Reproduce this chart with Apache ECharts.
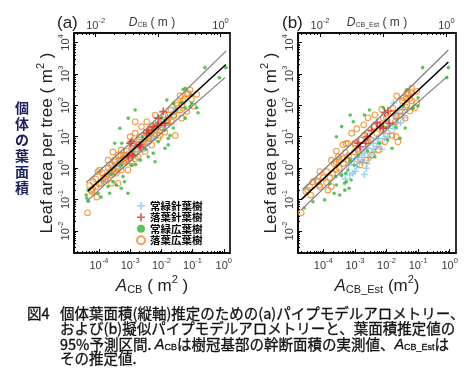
<!DOCTYPE html>
<html><head><meta charset="utf-8">
<script src="https://cdn.jsdelivr.net/npm/echarts@6/dist/echarts.min.js"></script>
<style>html,body{margin:0;padding:0;background:#fff}#c{width:472px;height:384px}</style>
</head><body><div id="c"></div>
<script>
// ---------- axis ranges & tick labels ----------
const xMin = 1.585e-5, xMax = 1.585;      // A (m^2)
const yMin = 2.0e-3,  yMax = 2.0e4;       // leaf area (m^2)
const xTickValues = [1e-4, 1e-3, 1e-2, 1e-1, 1];
const yTickValues = [1e-2, 1e-1, 1, 1e1, 1e2, 1e3, 1e4];
const dTickValues = [1e-2, 1e-1, 1];
const dLabelValues = [1e-2, 1];
const legendNames = ['常緑針葉樹', '落葉針葉樹', '常緑広葉樹', '落葉広葉樹'];

// ---------- panel (a): measured A_CB ----------
const a_evergreenConifer = [[1.3e-4,0.40],[1.6e-4,0.56],[2.0e-4,0.63],[2.5e-4,0.89],[2.8e-4,1.26],[3.2e-4,0.79],[3.5e-4,1.12],[4.0e-4,1.6],[4.5e-4,1.0],[5.0e-4,1.8],[5.6e-4,1.4],[6.3e-4,2.2],[7.1e-4,1.6],[7.9e-4,2.8],[8.9e-4,2.0],[1.0e-3,3.2],[1.1e-3,2.2],[1.26e-3,4.0],[1.4e-3,2.8],[1.6e-3,5.0],[1.8e-3,3.5],[2.0e-3,6.3],[2.2e-3,4.5],[2.5e-3,7.9],[2.8e-3,5.6],[3.2e-3,8.9],[3.5e-3,7.1],[4.0e-3,11],[4.5e-3,7.9],[5.0e-3,14],[5.6e-3,10],[6.3e-3,18],[7.1e-3,13],[7.9e-3,22],[8.9e-3,16],[1.0e-2,25],[1.1e-2,20],[1.26e-2,32],[1.4e-2,28],[1.6e-2,40],[2.0e-2,50],[2.5e-2,63],[3.2e-2,71],[2.5e-3,3.5],[1.0e-3,1.4],[6.3e-3,8.9],[1.8e-2,25],
  [1.4e-4,0.35],[2.2e-4,0.71],[3.5e-4,0.79],[5.6e-4,2.0],[8.9e-4,2.8],[1.4e-3,4.5],[2.2e-3,6.3],[3.5e-3,10],[5.6e-3,16],[8.9e-3,22],[1.4e-2,35],[2.2e-2,50],[2.8e-2,79],[4.5e-3,12.6],[1.8e-3,5.6],[7.1e-4,2.5]];
const a_deciduousConifer = [[3.8e-3,16],[5.5e-3,21],[7.9e-3,23],[3.4e-3,13],[1.15e-2,63],[1.3e-2,27],[7.9e-3,39],[1.0e-3,6.2],[2.1e-3,4.8],[8.7e-4,2.3],[2.0e-3,5.5],[1.2e-3,2.6],[1.1e-3,7.0]];
const a_evergreenBroadleaf = [[3.9e-5,0.14],[4.5e-5,0.20],[4.1e-5,0.11],[4.6e-5,0.089],[9.3e-5,0.16],[1.17e-4,0.12],[1.95e-4,0.26],[2.2e-4,0.16],[2.8e-4,0.37],[3.6e-4,0.29],[5.2e-4,0.23],[6.6e-4,0.37],[8.5e-4,0.16],[5.9e-4,0.54],[3.2e-4,6.2],[4.7e-4,18.6],[5.4e-4,6.2],[8.7e-4,39],[1.45e-3,71],[1.12e-3,1.26],[1.5e-3,1.3],[2.1e-3,1.8],[3.8e-3,2.3],[5.5e-3,3.0],[6.3e-3,1.6],[7.9e-3,6.9],[1.3e-2,4.3],[1.66e-2,5.5],[1.66e-2,8.9],[1.9e-2,11],[2.4e-2,19],[7.1e-3,27],[1.5e-2,148],[2.4e-2,115],[5.8e-2,39],[8.3e-2,91],[9.3e-2,115],[4.5e-2,120],[5.8e-2,83],[0.135,83],[0.15,58],[9.3e-2,210],[5.0e-2,320],[5.8e-2,350],[0.25,1580],[1.17,1580],[0.72,760],[2.5e-3,10],[5.0e-3,20],[1.0e-2,40],[1.26e-3,2.8],[5.0e-4,1.26],[3.2e-3,4.0],[1.26e-2,16],[2.5e-4,0.63]];
const a_deciduousBroadleaf = [[4.3e-5,0.038],[5.6e-5,0.20],[5.9e-5,0.18],[6.5e-5,0.37],[8.1e-5,0.26],[8.5e-5,0.12],[9.3e-5,0.78],[1.05e-4,0.87],[1.17e-4,0.33],[1.74e-4,0.54],[1.95e-4,1.8],[2.2e-4,0.78],[2.5e-4,1.26],[2.5e-4,0.33],[2.8e-4,3.3],[3.2e-4,1.8],[3.6e-4,0.69],[4.1e-4,2.6],[4.1e-4,0.33],[5.2e-4,3.8],[5.2e-4,0.87],[5.4e-4,1.8],[6.6e-4,1.4],[6.8e-4,2.6],[8.5e-4,0.87],[1.0e-3,10],[1.12e-3,4.3],[1.12e-3,1.4],[1.45e-3,13],[1.45e-3,2.0],[1.45e-3,30],[1.8e-3,5.5],[1.8e-3,2.3],[2.3e-3,21],[3.0e-3,8.9],[3.0e-3,3.4],[3.4e-3,30],[4.9e-3,14],[4.9e-3,5.5],[6.3e-3,49],[7.9e-3,8.9],[1.0e-2,30],[1.3e-2,14],[1.66e-2,49],[2.1e-2,30],[2.8e-2,11],[3.1e-2,120],[4.0e-2,200],[4.5e-2,102],[4.5e-2,39],[5.0e-2,138],[6.5e-2,63],[6.5e-2,224],[7.2e-2,240],[8.3e-2,310],[9.3e-2,155],[0.105,95],[0.135,224],[1.4e-4,0.5],[3.2e-4,0.79],[6.3e-4,2.0],[1.0e-3,2.5],[1.26e-3,5.0],[2.0e-3,7.9],[2.5e-3,5.0],[4.0e-3,12.6],[6.3e-3,16],[1.0e-2,20],[1.6e-2,32],[2.5e-2,50],[3.5e-2,71],[4.0e-3,7.1],[8.9e-3,11],
  [5.0e-5,0.28],[6.3e-5,0.22],[7.9e-5,0.45],[1.0e-4,0.32],[1.26e-4,0.71],[1.6e-4,0.45],[2.0e-4,1.0],[2.5e-4,0.63],[3.2e-4,1.6],[4.0e-4,1.0],[5.0e-4,2.5],[6.3e-4,1.6],[7.9e-4,3.5],[1.0e-3,2.2],[1.26e-3,6.3],[1.6e-3,4.0],[2.0e-3,10],[2.5e-3,5.6],[3.2e-3,14],[4.0e-3,8.9],[5.0e-3,22],[6.3e-3,12.6],[7.9e-3,32],[1.1e-2,19],[1.26e-2,50],[1.6e-2,28],[2.0e-2,71],[2.5e-2,45],[3.2e-2,100],[4.0e-2,71],[5.6e-2,160]];
const a_fit   = [[4.5e-5,0.19],[1.17,2000]];
const a_upper = [[3.9e-5,0.35],[3.2e-3,17.4],[1.2,5400]];
const a_lower = [[3.9e-5,0.085],[3.2e-3,4.8],[1.1,760]];

// ---------- panel (b): estimated A_CB_Est ----------
const b_evergreenConifer = [[6.9e-4,0.60],[8.5e-4,0.69],[1.12e-3,1.12],[1.4e-3,1.58],[1.66e-3,2.6],[2.0e-3,3.0],[2.3e-3,1.0],[2.4e-3,1.4],[2.6e-3,4.3],[3.2e-3,2.2],[3.7e-3,6.2],[4.3e-3,3.3],[5.0e-3,5.0],[5.5e-3,8.9],[6.3e-3,6.3],[7.9e-3,12.6],[8.9e-3,8.9],[1.15e-2,18.6],[1.26e-2,12.6],[1.6e-2,25],[1.8e-2,18],[2.0e-2,40],[2.3e-2,39],[2.8e-2,28],[3.2e-2,56],[3.9e-2,71],[1.66e-2,120],[2.7e-2,83],[5.0e-4,0.45],[1.0e-3,0.79],[1.8e-3,1.8],[4.0e-3,4.0],[7.1e-3,4.0],[1.1e-2,10],[2.6e-3,2.2],[6.3e-4,1.26],[2.0e-3,0.63],
  [4.0e-4,0.63],[7.9e-4,1.6],[1.26e-3,2.2],[2.0e-3,4.0],[3.2e-3,7.1],[5.0e-3,8.9],[7.9e-3,18],[1.26e-2,25],[2.0e-2,28],[2.5e-2,56],[3.5e-3,3.2],[1.6e-3,1.6],[1.0e-3,2.0],[3.5e-2,40]];
const b_deciduousConifer = [[1.12e-2,66],[1.23e-2,27],[6.2e-3,21],[7.9e-3,18.6],[3.4e-3,16],[2.2e-3,6.2],[1.45e-3,4.8],[1.26e-3,6.2],[8.9e-3,58],[5.0e-3,28],[2.5e-3,10]];
const b_evergreenBroadleaf = [[2.5e-5,0.054],[4.7e-5,0.085],[1.1e-4,0.098],[2.2e-4,0.16],[3.3e-4,0.14],[4.8e-4,0.20],[6.6e-4,0.23],[2.6e-4,0.29],[4.7e-4,0.33],[5.4e-4,0.37],[7.6e-4,0.42],[2.5e-4,0.54],[3.7e-4,0.60],[5.2e-4,0.69],[6.0e-4,0.87],[9.5e-4,1.26],[6.9e-4,1.8],[2.6e-4,10],[3.8e-4,21],[8.9e-4,30],[7.1e-4,49],[2.0e-3,49],[2.9e-3,71],[4.3e-3,2.3],[5.9e-3,6.2],[1.1e-2,7.9],[1.5e-2,4.3],[2.7e-2,8.9],[3.9e-2,19],[6.3e-2,79],[3.4e-2,95],[7.9e-3,83],[7.1e-2,83],[0.10,95],[0.10,174],[4.4e-2,320],[0.14,1580],[0.91,1580],[0.81,760],[1.26e-3,2.5],[2.5e-3,3.5],[1.0e-2,20],[2.0e-2,20],[1.6e-4,0.32]];
const b_deciduousBroadleaf = [[2.0e-5,0.038],[3.2e-5,0.20],[3.7e-5,0.25],[4.7e-5,0.37],[6.8e-5,0.37],[7.8e-5,0.78],[7.4e-5,0.29],[1.4e-4,0.20],[1.8e-4,0.26],[2.0e-4,0.69],[1.8e-4,1.8],[2.2e-4,1.4],[2.6e-4,3.5],[3.0e-4,2.3],[3.2e-4,1.8],[4.2e-4,5.6],[4.3e-4,1.4],[5.2e-4,6.0],[6.0e-4,6.2],[7.9e-4,13],[9.8e-4,3.3],[1.15e-3,18],[1.45e-3,1.26],[1.9e-3,24],[2.3e-3,1.8],[2.6e-3,40],[3.4e-3,2.6],[4.3e-3,50],[5.5e-3,3.8],[7.1e-3,75],[8.9e-3,6.9],[1.5e-2,11],[1.9e-2,30],[2.0e-2,10],[2.1e-2,200],[2.3e-2,6.9],[2.7e-2,63],[3.4e-2,174],[3.9e-2,39],[4.2e-2,166],[4.4e-2,250],[4.4e-2,102],[5.5e-2,166],[5.5e-2,66],[6.0e-2,270],[6.3e-2,350],[6.3e-2,138],[7.9e-2,83],[9.1e-2,280],[9.1e-2,120],[1.0e-4,0.5],[1.26e-4,0.35],[2.5e-4,0.89],[4.0e-4,2.0],[6.3e-4,2.5],[1.0e-3,6.3],[1.6e-3,7.9],[2.5e-3,12.6],[4.0e-3,20],[6.3e-3,25],[1.0e-2,40],[1.6e-2,56],[1.26e-3,4.0],[3.2e-3,7.9],[7.9e-3,16],
  [2.8e-5,0.18],[4.0e-5,0.14],[6.3e-5,0.40],[7.9e-5,0.25],[1.26e-4,0.79],[1.6e-4,0.50],[2.5e-4,1.6],[3.2e-4,1.0],[5.0e-4,3.2],[6.3e-4,1.8],[1.0e-3,5.6],[1.26e-3,3.5],[2.0e-3,11],[2.5e-3,7.1],[4.0e-3,22],[5.0e-3,12.6],[7.9e-3,40],[1.0e-2,25],[1.6e-2,79],[2.0e-2,45],[3.2e-2,141],[4.0e-2,89],[5.0e-2,224]];
const b_fit   = [[2.0e-5,0.10],[0.91,2400]];
const b_upper = [[2.2e-5,0.21],[3.2e-3,22],[0.91,5750]];
const b_lower = [[2.0e-5,0.047],[3.2e-3,6.2],[0.87,850]];

// ---------- helpers ----------
const FONT = '"Liberation Sans", Arial, sans-serif';
const JP = '"Noto Sans CJK JP", sans-serif';
const dMin = Math.sqrt(4 * xMin / Math.PI), dMax = Math.sqrt(4 * xMax / Math.PI); // D = sqrt(4A/pi)
function minorTicks(lo, hi) {
  const out = [];
  for (let e = Math.floor(Math.log10(lo)); e <= Math.ceil(Math.log10(hi)); e++) {
    for (let m = 2; m <= 9; m++) { const v = m * Math.pow(10, e); if (v > lo && v < hi) out.push(v); }
  }
  return out;
}
function powLabel(v) {
  const e = Math.round(Math.log10(v));
  return '{b|10}{s|' + e + '}';
}
const LBL = '#3a3a3a';
const tickRich = {
  b: { fontFamily: FONT, fontSize: 11, color: LBL, lineHeight: 14, verticalAlign: 'bottom' },
  s: { fontFamily: FONT, fontSize: 7.5, color: LBL, lineHeight: 8, verticalAlign: 'top' }
};
function nameRich(fs, col) {
  return {
    i: { fontFamily: FONT, fontSize: fs, fontStyle: 'italic', color: col, lineHeight: fs + 4, verticalAlign: 'bottom' },
    n: { fontFamily: FONT, fontSize: fs, color: col, lineHeight: fs + 4, verticalAlign: 'bottom' },
    sub: { fontFamily: FONT, fontSize: Math.round(fs * 0.62), color: col, lineHeight: Math.round(fs * 0.7), verticalAlign: 'bottom' },
    sup: { fontFamily: FONT, fontSize: Math.round(fs * 0.62), color: col, lineHeight: Math.round(fs * 0.7), verticalAlign: 'top' }
  };
}
const PLUS = 'path://M4,0h2v4h4v2h-4v4h-2v-4h-4v-2h4z';
const lineBlack = { color: '#000', width: 1.6 };

function xMain(g, name) {
  return { type: 'log', gridIndex: g, position: 'bottom', min: xMin, max: xMax,
    axisLine: { show: true, onZero: false, lineStyle: lineBlack },
    axisTick: { show: true, inside: true, length: 4, customValues: xTickValues, lineStyle: { color: '#000', width: 1 } },
    axisLabel: { show: true, customValues: xTickValues, formatter: powLabel, rich: tickRich, margin: 4 },
    splitLine: { show: false }, minorTick: { show: false },
    name: name, nameLocation: 'middle', nameGap: 21, nameMoveOverlap: false, nameTextStyle: { rich: nameRich(17, '#222') } };
}
function xMinor(g, pos, lo, hi) {
  return { type: 'log', gridIndex: g, position: pos, min: lo, max: hi,
    axisLine: { show: false, onZero: false }, axisLabel: { show: false }, splitLine: { show: false },
    axisTick: { show: true, inside: true, length: 2, customValues: minorTicks(lo, hi), lineStyle: { color: '#000', width: 1 } } };
}
function xTop(g, name) {
  return { type: 'log', gridIndex: g, position: 'top', min: dMin, max: dMax,
    axisLine: { show: true, onZero: false, lineStyle: lineBlack },
    axisTick: { show: true, inside: true, length: 4, customValues: dTickValues, lineStyle: { color: '#000', width: 1 } },
    axisLabel: { show: true, customValues: dLabelValues, formatter: powLabel, rich: tickRich, margin: 2 },
    splitLine: { show: false },
    name: name, nameLocation: 'middle', nameGap: 4, nameMoveOverlap: false, nameTextStyle: { rich: nameRich(12, '#3a3a3a') } };
}
function yMain(g) {
  return { type: 'log', gridIndex: g, position: 'left', min: yMin, max: yMax,
    axisLine: { show: true, onZero: false, lineStyle: lineBlack },
    axisTick: { show: true, inside: true, length: 4, customValues: yTickValues, lineStyle: { color: '#000', width: 1 } },
    axisLabel: { show: true, customValues: yTickValues, formatter: powLabel, rich: tickRich, rotate: 90, margin: 3 },
    splitLine: { show: false },
    name: '{n|Leaf area per tree ( m}{sup|2}{n| )}', nameLocation: 'middle', nameRotate: 90, nameGap: 18, nameMoveOverlap: false,
    nameTextStyle: { rich: nameRich(17, '#222') } };
}
function yMinor(g) {
  return { type: 'log', gridIndex: g, position: 'left', min: yMin, max: yMax,
    axisLine: { show: false, onZero: false }, axisLabel: { show: false }, splitLine: { show: false },
    axisTick: { show: true, inside: true, length: 2, customValues: minorTicks(yMin, yMax), lineStyle: { color: '#000', width: 1 } } };
}
function scatterSet(xi, yi, ec, dc, eb, db) {
  return [
    { type: 'scatter', name: legendNames[0], xAxisIndex: xi, yAxisIndex: yi, data: ec, symbol: PLUS, symbolSize: 7, itemStyle: { color: '#86c6ec' }, z: 2 },
    { type: 'scatter', name: legendNames[3], xAxisIndex: xi, yAxisIndex: yi, data: db, symbol: 'circle', symbolSize: 5.6, itemStyle: { color: 'rgba(255,255,255,0)', borderColor: '#f0871f', borderWidth: 1.15 }, z: 3 },
    { type: 'scatter', name: legendNames[2], xAxisIndex: xi, yAxisIndex: yi, data: eb, symbol: 'circle', symbolSize: 3.6, itemStyle: { color: '#2fb82f' }, z: 4 },
    { type: 'scatter', name: legendNames[1], xAxisIndex: xi, yAxisIndex: yi, data: dc, symbol: PLUS, symbolSize: 8, itemStyle: { color: '#e8242c' }, z: 5 }
  ];
}
function lineSet(xi, yi, fit, up, lo) {
  const mk = (d, c, w) => ({ type: 'line', xAxisIndex: xi, yAxisIndex: yi, data: d, symbol: 'none', showSymbol: false,
    lineStyle: { color: c, width: w }, z: 6, silent: true });
  return [mk(up, '#7f7f7f', 1.2), mk(lo, '#7f7f7f', 1.2), mk(fit, '#000', 1.5)];
}

const chart = echarts.init(document.getElementById('c'), null, { renderer: 'canvas' });
const capStyle = { font: '14.5px ' + JP, fill: '#111', stroke: '#111', lineWidth: 0.3, verticalAlign: 'middle', textVerticalAlign: 'middle' };
chart.setOption({
  animation: false,
  backgroundColor: '#fff',
  grid: [
    { left: 74, top: 33, width: 156, height: 220, show: true, borderColor: '#000', borderWidth: 1.6, containLabel: false, outerBoundsMode: 'none' },
    { left: 298, top: 33, width: 158, height: 220, show: true, borderColor: '#000', borderWidth: 1.6, containLabel: false, outerBoundsMode: 'none' }
  ],
  xAxis: [
    xMain(0, '{i|A}{sub|CB}{n| ( m}{sup|2}{n| )}'),
    xMinor(0, 'bottom', xMin, xMax),
    xTop(0, '{i|D}{sub|CB}{n| ( m )}'),
    xMinor(0, 'top', dMin, dMax),
    xMain(1, '{i|A}{sub|CB_Est}{n| (m}{sup|2}{n|)}'),
    xMinor(1, 'bottom', xMin, xMax),
    xTop(1, '{i|D}{sub|CB_Est}{n| ( m )}'),
    xMinor(1, 'top', dMin, dMax)
  ],
  yAxis: [yMain(0), yMinor(0), yMain(1), yMinor(1)],
  legend: {
    orient: 'vertical', left: 131, top: 195, itemWidth: 8, itemHeight: 8, itemGap: 0, itemTextGap: 6,
    selectedMode: false, data: legendNames,
    textStyle: { fontFamily: JP, fontSize: 10.5, fontWeight: 'bold', color: '#000', lineHeight: 11.5 }
  },
  series: [].concat(
    scatterSet(0, 0, a_evergreenConifer, a_deciduousConifer, a_evergreenBroadleaf, a_deciduousBroadleaf),
    lineSet(0, 0, a_fit, a_upper, a_lower),
    scatterSet(4, 2, b_evergreenConifer, b_deciduousConifer, b_evergreenBroadleaf, b_deciduousBroadleaf),
    lineSet(4, 2, b_fit, b_upper, b_lower)
  ),
  graphic: [
    { type: 'text', x: 57, y: 23, style: { text: '(a)', font: '17px ' + FONT, fill: '#222', verticalAlign: 'middle', textVerticalAlign: 'middle' } },
    { type: 'text', x: 282, y: 23, style: { text: '(b)', font: '17px ' + FONT, fill: '#222', verticalAlign: 'middle', textVerticalAlign: 'middle' } },
    { type: 'text', x: 22, y: 148, style: { text: '個\n体\nの\n葉\n面\n積', font: 'bold 14px ' + JP, lineHeight: 16, fill: '#1e2460', align: 'center', textAlign: 'center', verticalAlign: 'middle', textVerticalAlign: 'middle' } },
    { type: 'text', x: 27, y: 313, style: Object.assign({ text: '図4' }, capStyle) },
    { type: 'text', x: 60, y: 313, style: Object.assign({ text: '個体葉面積(縦軸)推定のための(a)パイプモデルアロメトリー、' }, capStyle) },
    { type: 'text', x: 60, y: 328, style: Object.assign({ text: 'および(b)擬似パイプモデルアロメトリーと、葉面積推定値の' }, capStyle) },
    { type: 'text', x: 60, y: 343, style: {
        text: '{t|95%予測区間. }{i|A}{s|CB}{t|は樹冠基部の幹断面積の実測値、}{i|A}{s|CB_Est}{t|は}',
        verticalAlign: 'middle', textVerticalAlign: 'middle', stroke: '#111', lineWidth: 0.3,
        rich: {
          t: { fontFamily: JP, fontSize: 14.5, color: '#111', fill: '#111', lineHeight: 18, verticalAlign: 'bottom' },
          i: { fontFamily: FONT, fontSize: 14.5, fontStyle: 'italic', color: '#111', fill: '#111', lineHeight: 18, verticalAlign: 'bottom' },
          s: { fontFamily: FONT, fontSize: 9, color: '#111', fill: '#111', lineHeight: 10, verticalAlign: 'bottom' }
        } } },
    { type: 'text', x: 60, y: 358, style: Object.assign({ text: 'その推定値.' }, capStyle) }
  ]
});
</script></body></html>
